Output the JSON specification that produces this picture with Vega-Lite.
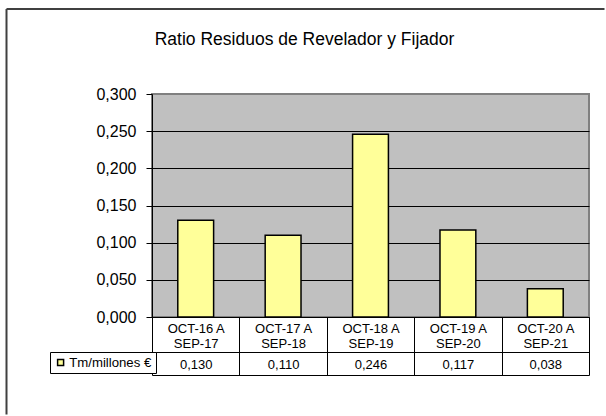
{
  "$schema": "https://vega.github.io/schema/vega-lite/v6.json",
  "usermeta": {"embedOptions": {"actions": false}},
  "width": 437,
  "height": 223,
  "padding": {"left": 6, "top": 8, "right": 0, "bottom": 0},
  "background": "white",
  "title": {
    "text": "Ratio Residuos de Revelador y Fijador",
    "fontSize": 17.5,
    "fontWeight": "normal",
    "font": "Liberation Sans",
    "color": "black",
    "frame": "group",
    "anchor": "middle",
    "dx": -66,
    "baseline": "alphabetic",
    "offset": -54
  },
  "config": {
    "font": "Liberation Sans",
    "view": {"fill": "#c0c0c0", "stroke": "#808080", "strokeWidth": 2},
    "axis": {"labelColor": "black", "domainColor": "black", "tickColor": "black", "labelFont": "Liberation Sans", "domainWidth": 1, "tickWidth": 1}
  },
  "data": {
    "values": [
      {"period": "OCT-16 A\nSEP-17", "value": 0.130, "label": "0,130", "series": "Tm/millones €"},
      {"period": "OCT-17 A\nSEP-18", "value": 0.110, "label": "0,110", "series": "Tm/millones €"},
      {"period": "OCT-18 A\nSEP-19", "value": 0.246, "label": "0,246", "series": "Tm/millones €"},
      {"period": "OCT-19 A\nSEP-20", "value": 0.117, "label": "0,117", "series": "Tm/millones €"},
      {"period": "OCT-20 A\nSEP-21", "value": 0.038, "label": "0,038", "series": "Tm/millones €"}
    ]
  },
  "layer": [
    {
      "mark": {"type": "bar", "stroke": "black", "strokeWidth": 1.5, "width": {"band": 0.41}},
      "encoding": {
        "x": {
          "field": "period", "type": "nominal", "sort": null,
          "scale": {"paddingInner": 0, "paddingOuter": 0},
          "axis": {
            "title": null, "orient": "bottom", "labelAngle": 0,
            "labelExpr": "isString(datum.value) ? split(datum.value, '\\n') : ''",
            "labelFontSize": 13, "labelLineHeight": 15,
            "labelBaseline": "alphabetic", "labelPadding": -42.8,
            "tickBand": "extent", "tickSize": 58
          }
        },
        "y": {
          "field": "value", "type": "quantitative",
          "scale": {"domain": [0, 0.3], "nice": false},
          "axis": {
            "title": null,
            "values": [0, 0.05, 0.1, 0.15, 0.2, 0.25, 0.3],
            "labelExpr": "replace(format(datum.value, '.3f'), '.', ',')",
            "labelFontSize": 16, "labelPadding": 10, "tickSize": 6,
            "grid": true, "gridOpacity": 1, "gridWidth": 1,
            "gridColor": {"condition": {"test": "datum.value > 0.29", "value": "#808080"}, "value": "black"}
          }
        },
        "color": {
          "field": "series", "type": "nominal",
          "scale": {"range": ["#ffff99"]},
          "legend": {
            "title": null, "orient": "none", "legendX": -102, "legendY": 258,
            "strokeColor": "black", "fillColor": "white", "padding": 4, "cornerRadius": 0,
            "symbolType": "square", "symbolSize": 36, "symbolStrokeColor": "black", "symbolStrokeWidth": 1.5,
            "labelFontSize": 13.2, "labelFont": "Liberation Sans", "labelColor": "black", "labelOffset": 2
          }
        }
      }
    },
    {
      "mark": {"type": "point", "opacity": 0},
      "encoding": {
        "x": {
          "field": "label", "type": "nominal", "sort": null,
          "scale": {"paddingInner": 0, "paddingOuter": 0},
          "axis": {
            "title": null, "orient": "bottom", "offset": 35, "ticks": false, "tickSize": 0,
            "labelAngle": 0, "labelFontSize": 13, "labelBaseline": "alphabetic", "labelPadding": 16.5
          }
        }
      }
    },
    {
      "mark": {"type": "point", "opacity": 0},
      "encoding": {
        "x": {
          "field": "period", "type": "nominal", "sort": null,
          "scale": {"paddingInner": 0, "paddingOuter": 0},
          "axis": {"title": null, "orient": "bottom", "offset": 58, "ticks": false, "labels": false}
        }
      }
    },
    {
      "mark": {"type": "point", "opacity": 0},
      "encoding": {
        "x": {
          "field": "value", "type": "quantitative",
          "scale": {"range": [-146, 452]},
          "axis": {"title": null, "orient": "top", "offset": 85.5, "ticks": false, "labels": false, "grid": false, "domainColor": "#404040", "domainWidth": 2}
        },
        "y": {
          "field": "value", "type": "quantitative",
          "scale": {"range": [320, -85.5]},
          "axis": {"title": null, "orient": "left", "offset": 146, "ticks": false, "labels": false, "grid": false, "domainColor": "#404040", "domainWidth": 2}
        }
      }
    }
  ],
  "resolve": {"scale": {"x": "independent", "y": "independent"}}
}
